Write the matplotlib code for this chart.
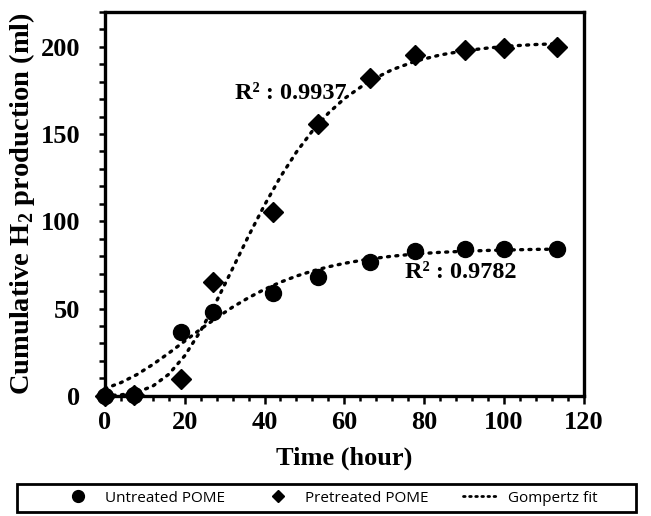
import matplotlib
matplotlib.use("Agg")
import matplotlib.pyplot as plt
from matplotlib.lines import Line2D
from matplotlib.patches import Rectangle
from matplotlib.ticker import MultipleLocator

# measured points (hour, ml)
time_h = [0, 7.4, 19.0, 27.2, 42.1, 53.3, 66.5, 77.8, 90.3, 100.0, 113.2]
untreated = [0, 0.5, 36.8, 47.9, 58.7, 67.9, 76.8, 83.1, 83.9, 83.9, 84.3]
pretreated = [0, 0.3, 9.7, 65.4, 105.4, 155.6, 182.2, 195.0, 197.9, 199.2, 199.8]

# dotted Gompertz fit lines
fit_t = [0, 4, 8, 12, 16, 20, 24, 28, 32, 36, 40, 44, 48, 52, 56, 60,
         66, 72, 78, 84, 90, 96, 102, 108, 113]
fit_untreated = [4.1, 7.5, 12.1, 17.9, 24.4, 31.3, 38.2, 44.7, 50.8, 56.2, 61.0,
                 65.1, 68.6, 71.5, 73.9, 75.9, 78.3, 80.0, 81.3, 82.2, 82.8,
                 83.3, 83.6, 83.9, 84.0]
fit_pretreated = [0.1, 0.5, 2.0, 5.5, 12.3, 22.9, 37.2, 54.3, 72.9, 91.6, 109.3,
                  125.5, 139.7, 151.8, 162.0, 170.3, 180.0, 186.9, 191.9, 195.3,
                  197.7, 199.3, 200.5, 201.3, 201.7]

r2_pre = "R\u00b2 : 0.9937"
r2_un = "R\u00b2 : 0.9782"

plt.rcParams['font.family'] = ['Liberation Serif', 'DejaVu Serif']
plt.rcParams['font.weight'] = 'bold'
plt.rcParams['mathtext.fontset'] = 'custom'
plt.rcParams['mathtext.rm'] = 'Liberation Serif:bold'
plt.rcParams['mathtext.bf'] = 'Liberation Serif:bold'

fig = plt.figure(figsize=(6.51, 5.16), dpi=100)
ax = fig.add_axes([0.161, 0.233, 0.736, 0.744])

dot = (0, (0.6, 1.9))
ax.plot(fit_t, fit_untreated, color='black', lw=2.4, linestyle=dot,
        dash_capstyle='round', zorder=2)
ax.plot(fit_t, fit_pretreated, color='black', lw=2.4, linestyle=dot,
        dash_capstyle='round', zorder=2)
ax.plot(time_h, pretreated, 'D', color='black', ms=10, zorder=3, clip_on=False)
ax.plot(time_h, untreated, 'o', color='black', ms=11.5, zorder=3, clip_on=False)

ax.text(32.6, 173, r2_pre, fontsize=17.5, fontweight='bold', va='center')
ax.text(75.3, 70.5, r2_un, fontsize=17.5, fontweight='bold', va='center')

ax.set_xlim(0, 120)
ax.set_ylim(0, 220)
ax.xaxis.set_major_locator(MultipleLocator(20))
ax.xaxis.set_minor_locator(MultipleLocator(4))
ax.yaxis.set_major_locator(MultipleLocator(50))
ax.yaxis.set_minor_locator(MultipleLocator(10))
ax.tick_params(axis='x', which='major', direction='out', length=6, width=1.8,
               labelsize=19, pad=5)
ax.tick_params(axis='x', which='minor', direction='out', length=3.5, width=1.8)
ax.tick_params(axis='y', which='both', direction='out', length=4.5, width=1.8,
               labelsize=19, pad=13)
for lab in ax.get_xticklabels() + ax.get_yticklabels():
    lab.set_fontweight('bold')
for s in ax.spines.values():
    s.set_linewidth(2.4)

ax.set_xlabel("Time (hour)", fontsize=19, fontweight='bold', labelpad=9)
ax.set_ylabel("Cumulative H$_2$ production (ml)", fontsize=20.5,
              fontweight='bold', labelpad=3)

# legend box below the axes
box = Rectangle((17 / 651, 4 / 516), 619 / 651, 28 / 516, transform=fig.transFigure,
                fill=False, edgecolor='black', linewidth=2.0)
fig.add_artist(box)

handles = [
    Line2D([], [], marker='o', color='black', linestyle='none', ms=8.5),
    Line2D([], [], marker='D', color='black', linestyle='none', ms=6.5),
    Line2D([], [], color='black', lw=2, linestyle=(0, (0.6, 1.6)),
           dash_capstyle='round'),
]
labels = ["Untreated POME", "Pretreated POME", "Gompertz fit"]
leg = fig.legend(handles, labels, loc='center',
                 bbox_to_anchor=(329 / 651, 1 - 498 / 516),
                 ncol=3, frameon=False,
                 prop={'family': 'Open Sans', 'size': 11, 'weight': 'normal'},
                 handlelength=2.3, handletextpad=0.6, columnspacing=2.3,
                 borderaxespad=0, borderpad=0)

fig.savefig("out.png", dpi=100)
